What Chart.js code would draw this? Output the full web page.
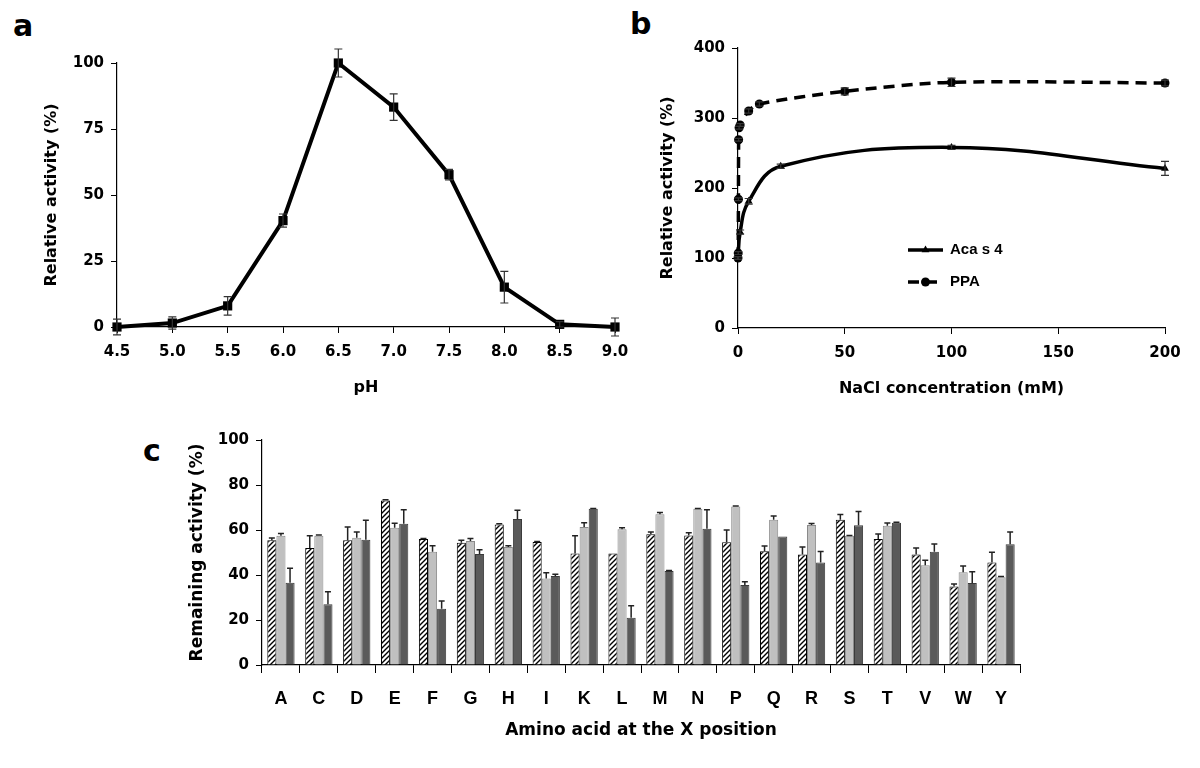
<!DOCTYPE html>
<html>
<head>
<meta charset="utf-8">
<script src="https://cdn.jsdelivr.net/npm/chart.js@4.4.1/dist/chart.umd.min.js"></script>
<style>
  body { margin: 0; background: #fff; }
  #page { position: relative; width: 1200px; height: 768px; overflow: hidden; }
  canvas { position: absolute; }
  .tag { position: absolute; font: bold 30px "DejaVu Sans", sans-serif; color: #000; }
</style>
</head>
<body>
<div id="page">
  <div class="tag" style="left:13px; top:8px;">a</div>
  <div class="tag" style="left:630px; top:6px;">b</div>
  <div class="tag" style="left:143px; top:433px;">c</div>
  <canvas id="chart-ph" width="650" height="400" style="left:0; top:0;"></canvas>
  <canvas id="chart-nacl" width="580" height="400" style="left:620px; top:0;"></canvas>
  <canvas id="chart-amino" width="1000" height="350" style="left:140px; top:410px;"></canvas>
</div>
<script>
// panel a: pH profile
const phValues = [4.5, 5.0, 5.5, 6.0, 6.5, 7.0, 7.5, 8.0, 8.5, 9.0];
const phActivity = [0, 1.5, 8, 40.3, 100, 83.3, 57.7, 15.1, 1, 0];
const phError = [3, 2.3, 3.5, 2.5, 5.3, 5, 2, 6, 1, 3.4];

// panel b: NaCl
const acaConc = [0, 1, 5, 20, 100, 200];
const acaActivity = [100, 137, 181, 231, 258, 228];
const acaError = [2, 3, 4, 3, 3, 10];
const ppaConc = [0, 0.1, 0.2, 0.3, 0.5, 1, 5, 10, 50, 100, 200];
const ppaActivity = [100, 107, 184, 269, 286, 290, 310, 320, 338, 351, 350];
const ppaError = [2, 2, 2, 2, 2, 2, 3, 3, 5, 6, 4];

// panel c: amino acid at X
const aminoAcids = ["A", "C", "D", "E", "F", "G", "H", "I", "K", "L", "M", "N", "P", "Q", "R", "S", "T", "V", "W", "Y"];
const hatchedValues = [55.4, 52, 55.5, 73.1, 56, 54.3, 62.4, 54.7, 49.6, 49.6, 58.1, 57.6, 54.6, 50.6, 49.1, 64.6, 56, 49.1, 34.9, 45.6];
const hatchedError = [1, 5.5, 5.8, 0.3, 0.2, 1.2, 0.4, 0.2, 7.9, 0, 1, 1.2, 5.4, 2.3, 3.3, 2.3, 2.2, 2.9, 1.1, 4.5];
const lightValues = [57.4, 57.5, 56.6, 61, 50.3, 55.1, 52.5, 38.5, 61.3, 60.3, 67, 69.4, 70.4, 64.6, 62.2, 57.4, 61.9, 44.3, 41.2, 39];
const lightError = [1, 0.3, 2.5, 2, 2.7, 1.1, 0.5, 2.5, 1.9, 0.7, 0.8, 0.2, 0.3, 1.6, 0.7, 0.2, 1.2, 2.3, 2.8, 0.3];
const darkValues = [36.6, 27, 55.7, 62.8, 25, 49.3, 64.9, 39.6, 69.4, 21, 41.8, 60.6, 35.6, 57.1, 45.6, 62.1, 63.2, 50.3, 36.5, 53.7];
const darkError = [6.4, 5.6, 8.6, 6.2, 3.5, 1.9, 3.9, 0.7, 0.2, 5.3, 0.2, 8.4, 1.4, 0, 4.8, 6.1, 0.2, 3.5, 5, 5.4];

const FONT = "'DejaVu Sans', sans-serif";
const tickFont = { family: FONT, size: 15, weight: "bold" };
const titleFont = { family: FONT, size: 16, weight: "bold" };

function fixY(w) {
  return s => { s.width = w; s.paddingTop = 0; s.paddingBottom = 0; };
}
function fixX(h) {
  return s => { s.height = h; s.paddingLeft = 0; s.paddingRight = 0; };
}

const axisGrid = { display: true, drawOnChartArea: false, drawTicks: true, tickLength: 6, color: "#000", lineWidth: 1 };
const axisBorder = { display: true, color: "#000", width: 1.2 };

// draws error bars from dataset.errors through the element positions
const errorBars = {
  id: "errorBars",
  afterDatasetsDraw(chart, args, opts) {
    const ctx = chart.ctx;
    const yScale = chart.scales.y;
    chart.data.datasets.forEach((ds, di) => {
      if (!ds.errors) return;
      const meta = chart.getDatasetMeta(di);
      ctx.save();
      ctx.strokeStyle = opts.color || "#222";
      ctx.lineWidth = opts.width || 1.2;
      meta.data.forEach((el, i) => {
        const err = ds.errors[i];
        if (!err) return;
        const v = typeof ds.data[i] === "object" ? ds.data[i].y : ds.data[i];
        const top = yScale.getPixelForValue(v + err);
        const bottom = opts.upOnly ? el.y : yScale.getPixelForValue(v - err);
        const cap = opts.cap || 4;
        ctx.beginPath();
        ctx.moveTo(el.x, top); ctx.lineTo(el.x, bottom);
        ctx.moveTo(el.x - cap, top); ctx.lineTo(el.x + cap, top);
        if (!opts.upOnly) { ctx.moveTo(el.x - cap, bottom); ctx.lineTo(el.x + cap, bottom); }
        ctx.stroke();
      });
      ctx.restore();
    });
  }
};

// ---------- a ----------
new Chart(document.getElementById("chart-ph"), {
  type: "line",
  data: {
    datasets: [{
      data: phValues.map((x, i) => ({ x, y: phActivity[i] })),
      errors: phError,
      borderColor: "#000",
      backgroundColor: "#000",
      borderWidth: 4,
      pointStyle: "rect",
      pointRadius: 6.5,
      pointBorderWidth: 0,
      tension: 0
    }]
  },
  options: {
    responsive: false,
    animation: false,
    clip: false,
    layout: { padding: { left: 40, top: 63, right: 35, bottom: 3 } },
    plugins: {
      legend: { display: false },
      tooltip: { enabled: false },
      errorBars: { cap: 4, width: 1.2, color: "#333" }
    },
    scales: {
      x: {
        type: "linear", min: 4.5, max: 9.0,
        afterFit: fixX(70),
        afterBuildTicks: s => { s.ticks = phValues.map(v => ({ value: v })); },
        ticks: { font: tickFont, color: "#000", padding: 10, callback: v => v.toFixed(1) },
        grid: axisGrid, border: axisBorder,
        title: { display: true, text: "pH", font: titleFont, color: "#000", padding: 0 }
      },
      y: {
        min: 0, max: 100,
        afterFit: fixY(77),
        ticks: { font: tickFont, color: "#000", stepSize: 25, padding: 7 },
        grid: axisGrid, border: axisBorder,
        title: { display: true, text: "Relative activity (%)", font: titleFont, color: "#000", padding: { top: 2 } }
      }
    }
  },
  plugins: [errorBars]
});

// ---------- b ----------
const naclLegend = {
  id: "naclLegend",
  afterDraw(chart) {
    const ctx = chart.ctx;
    const x0 = 288, x1 = 323;
    const rows = [{ y: 250, ds: 0 }, { y: 282, ds: 1 }];
    ctx.save();
    rows.forEach(r => {
      const ds = chart.data.datasets[r.ds];
      ctx.strokeStyle = "#000";
      ctx.lineWidth = 3.5;
      ctx.setLineDash(ds.borderDash || []);
      ctx.beginPath(); ctx.moveTo(x0, r.y); ctx.lineTo(x1, r.y); ctx.stroke();
      ctx.setLineDash([]);
      ctx.fillStyle = "#000";
      Chart.helpers.drawPoint(ctx, { pointStyle: ds.pointStyle, radius: ds.pointRadius, borderWidth: 0 }, (x0 + x1) / 2, r.y);
      ctx.font = "bold 15px 'Liberation Sans Narrow', 'Liberation Sans', sans-serif";
      ctx.textBaseline = "middle";
      ctx.fillText(ds.label, 330, r.y);
    });
    ctx.restore();
  }
};

new Chart(document.getElementById("chart-nacl"), {
  type: "line",
  data: {
    datasets: [{
      label: "Aca s 4",
      data: acaConc.map((x, i) => ({ x, y: acaActivity[i] })),
      errors: acaError,
      borderColor: "#000",
      backgroundColor: "#000",
      borderWidth: 3.5,
      pointStyle: "triangle",
      pointRadius: 4.5,
      pointBorderWidth: 0,
      tension: 0.4
    }, {
      label: "PPA",
      data: ppaConc.map((x, i) => ({ x, y: ppaActivity[i] })),
      errors: ppaError,
      borderColor: "#000",
      backgroundColor: "#000",
      borderWidth: 3.5,
      borderDash: [11, 7],
      pointStyle: "circle",
      pointRadius: 4.5,
      pointBorderWidth: 0,
      tension: 0.3
    }]
  },
  options: {
    responsive: false,
    animation: false,
    clip: false,
    layout: { padding: { left: 38, top: 48, right: 35, bottom: 2 } },
    plugins: {
      legend: { display: false },
      tooltip: { enabled: false },
      errorBars: { cap: 4, width: 1.2, color: "#333" }
    },
    scales: {
      x: {
        type: "linear", min: 0, max: 200,
        afterFit: fixX(70),
        ticks: { font: tickFont, color: "#000", stepSize: 50, padding: 10 },
        grid: axisGrid, border: axisBorder,
        title: { display: true, text: "NaCl concentration (mM)", font: titleFont, color: "#000", padding: 0 }
      },
      y: {
        min: 0, max: 400,
        afterFit: fixY(80),
        ticks: { font: tickFont, color: "#000", stepSize: 100, padding: 7 },
        grid: axisGrid, border: axisBorder,
        title: { display: true, text: "Relative activity (%)", font: titleFont, color: "#000", padding: { top: 0 } }
      }
    }
  },
  plugins: [errorBars, naclLegend]
});

// ---------- c ----------
function makeHatch() {
  const p = document.createElement("canvas");
  p.width = 5; p.height = 5;
  const g = p.getContext("2d");
  g.fillStyle = "#fff";
  g.fillRect(0, 0, 5, 5);
  g.strokeStyle = "#000";
  g.lineWidth = 1.4;
  g.beginPath();
  g.moveTo(-1, 6); g.lineTo(6, -1);
  g.moveTo(-1, 1); g.lineTo(1, -1);
  g.moveTo(4, 6); g.lineTo(6, 4);
  g.stroke();
  return g.createPattern(p, "repeat");
}

new Chart(document.getElementById("chart-amino"), {
  type: "bar",
  data: {
    labels: aminoAcids,
    datasets: [{
      data: hatchedValues,
      errors: hatchedError,
      backgroundColor: makeHatch(),
      borderColor: "#000",
      borderWidth: 1
    }, {
      data: lightValues,
      errors: lightError,
      backgroundColor: "#c0c0c0",
      borderColor: "#8a8a8a",
      borderWidth: 1
    }, {
      data: darkValues,
      errors: darkError,
      backgroundColor: "#5a5a5a",
      borderColor: "#3a3a3a",
      borderWidth: 1
    }]
  },
  options: {
    responsive: false,
    animation: false,
    layout: { padding: { left: 47, top: 30, right: 120, bottom: 19 } },
    datasets: { bar: { categoryPercentage: 0.72, barPercentage: 1 } },
    plugins: {
      legend: { display: false },
      tooltip: { enabled: false },
      errorBars: { cap: 3, width: 1.5, color: "#222", upOnly: true }
    },
    scales: {
      x: {
        afterFit: fixX(76),
        ticks: { font: { family: "'Liberation Sans', Arial, sans-serif", size: 18, weight: "bold" }, color: "#000", padding: 15 },
        grid: { display: true, drawOnChartArea: false, drawTicks: true, tickLength: 8, color: "#000", offset: true },
        border: axisBorder,
        title: { display: true, text: "Amino acid at the X position", font: { family: FONT, size: 17, weight: "bold" }, color: "#000", padding: 0 }
      },
      y: {
        min: 0, max: 100,
        afterFit: fixY(75),
        ticks: { font: tickFont, color: "#000", stepSize: 20, padding: 7 },
        grid: axisGrid, border: axisBorder,
        title: { display: true, text: "Remaining activity (%)", font: { family: FONT, size: 17, weight: "bold" }, color: "#000", padding: { top: 0 } }
      }
    }
  },
  plugins: [errorBars]
});
</script>
</body>
</html>
